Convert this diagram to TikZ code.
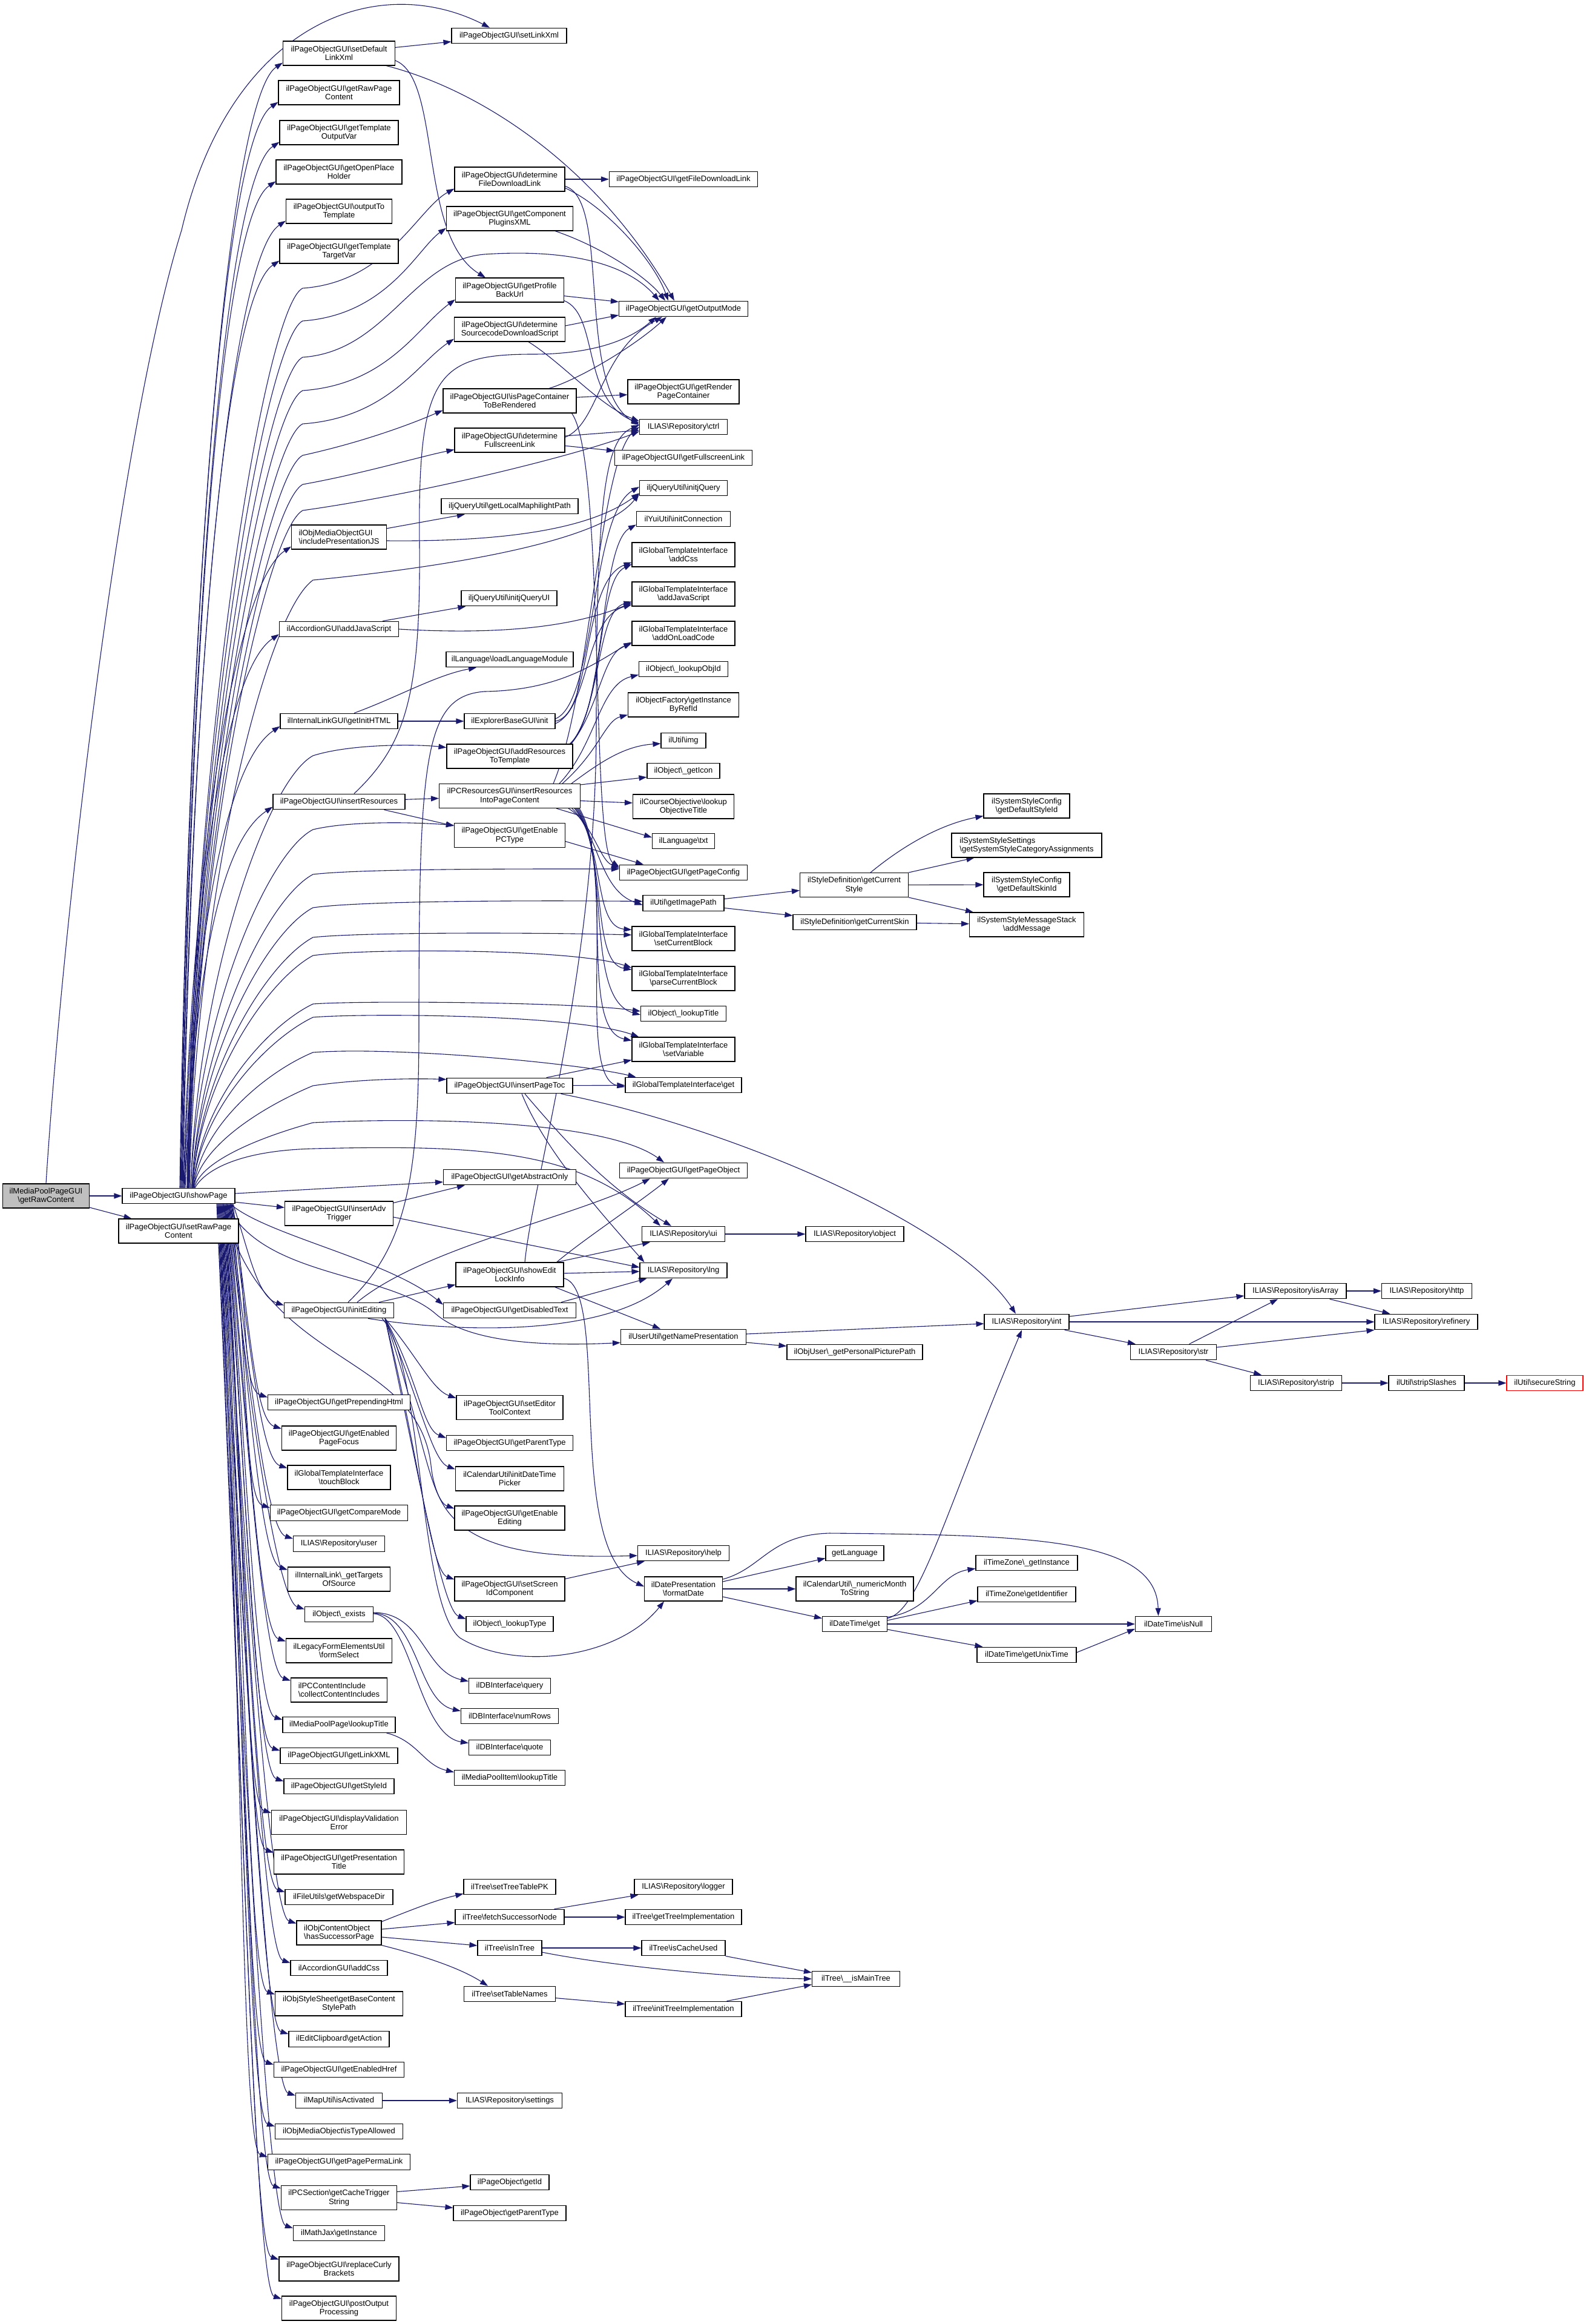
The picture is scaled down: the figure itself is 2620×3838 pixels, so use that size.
\documentclass[tikz,border=0pt]{standalone}
\usepackage{fontspec}
\setmainfont{Liberation Sans}
\usetikzlibrary{arrows.meta,backgrounds}
\definecolor{edgec}{HTML}{191970}
\definecolor{rootgray}{HTML}{BFBFBF}
\newcommand{\mybs}{\textbackslash}
\begin{document}
\begin{tikzpicture}[x=1pt,y=-1pt,
  font=\fontsize{13pt}{14.3pt}\selectfont,
  cgn/.style={draw=black,fill=white,line width=1.1pt,inner xsep=2pt,inner ysep=1pt,minimum height=25.7pt,align=center},
  cg2/.style={cgn,minimum height=40pt},
  cge/.style={draw=edgec,line width=1.1pt,-{Triangle[length=13pt,width=9pt]}}]
\useasboundingbox (0,0) rectangle (2620,3838);

% ---- column 1/2
\node[cg2,fill=rootgray,minimum width=143pt] (root) at (76,1975) {ilMediaPoolPageGUI\\\mybs getRawContent};
\node[cgn,minimum width=186pt] (sp) at (295,1975) {ilPageObjectGUI\mybs showPage};
\node[cg2,minimum width=198pt] (srpc) at (295,2033) {ilPageObjectGUI\mybs setRawPage\\Content};

% ---- column 3
\node[cg2,minimum width=185pt] (sdlx) at (560,88) {ilPageObjectGUI\mybs setDefault\\LinkXml};
\node[cg2,minimum width=200pt] (grpc) at (560,153) {ilPageObjectGUI\mybs getRawPage\\Content};
\node[cg2,minimum width=196pt] (gtov) at (560,219) {ilPageObjectGUI\mybs getTemplate\\OutputVar};
\node[cg2,minimum width=208pt] (goph) at (560,284) {ilPageObjectGUI\mybs getOpenPlace\\Holder};
\node[cg2,minimum width=175pt] (otot) at (560,349) {ilPageObjectGUI\mybs outputTo\\Template};
\node[cg2,minimum width=196pt] (gttv) at (560,415) {ilPageObjectGUI\mybs getTemplate\\TargetVar};
\node[cg2,minimum width=157pt,align=left] (ipjs) at (560,887) {ilObjMediaObjectGUI\\\mybs includePresentationJS};
\node[cgn,minimum width=197pt] (aajs) at (560,1039) {ilAccordionGUI\mybs addJavaScript};
\node[cgn,minimum width=194pt] (gih) at (560,1191) {ilInternalLinkGUI\mybs getInitHTML};
\node[cgn,minimum width=218pt] (ires) at (560,1324) {ilPageObjectGUI\mybs insertResources};
\node[cg2,minimum width=179pt] (iat) at (560,2004) {ilPageObjectGUI\mybs insertAdv\\Trigger};
\node[cgn,minimum width=181pt] (ied) at (560,2164) {ilPageObjectGUI\mybs initEditing};
\node[cgn,minimum width=235pt] (gph) at (560,2316) {ilPageObjectGUI\mybs getPrependingHtml};
\node[cg2,minimum width=189pt] (gepf) at (560,2375) {ilPageObjectGUI\mybs getEnabled\\PageFocus};
\node[cg2,minimum width=170pt] (tb) at (560,2440) {ilGlobalTemplateInterface\\\mybs touchBlock};
\node[cgn,minimum width=227pt] (gcm) at (560,2498.5) {ilPageObjectGUI\mybs getCompareMode};
\node[cgn,minimum width=151pt] (ruser) at (560,2549.5) {ILIAS\mybs Repository\mybs user};
\node[cg2,minimum width=169pt] (gtos) at (560,2608) {ilInternalLink\mybs\_getTargets\\OfSource};
\node[cgn,minimum width=113pt] (oex) at (560,2666) {ilObject\mybs\_exists};
\node[cg2,minimum width=175pt] (fsel) at (560,2726) {ilLegacyFormElementsUtil\\\mybs formSelect};
\node[cg2,minimum width=159pt,align=left] (cci) at (560,2791) {ilPCContentInclude\\\mybs collectContentIncludes};
\node[cgn,minimum width=186pt] (mplt) at (560,2848.5) {ilMediaPoolPage\mybs lookupTitle};
\node[cgn,minimum width=194pt] (glx) at (560,2899.5) {ilPageObjectGUI\mybs getLinkXML};
\node[cgn,minimum width=182pt] (gsid) at (560,2950) {ilPageObjectGUI\mybs getStyleId};
\node[cg2,minimum width=223pt] (dve) at (560,3009.5) {ilPageObjectGUI\mybs displayValidation\\Error};
\node[cg2,minimum width=215pt] (gpt) at (560,3075) {ilPageObjectGUI\mybs getPresentation\\Title};
\node[cgn,minimum width=178pt] (gwd) at (560,3133) {ilFileUtils\mybs getWebspaceDir};
\node[cg2,minimum width=140pt,align=left] (hsp) at (560,3192) {ilObjContentObject\\\mybs hasSuccessorPage};
\node[cgn,minimum width=160pt] (acss) at (560,3250) {ilAccordionGUI\mybs addCss};
\node[cg2,minimum width=211pt] (gbcs) at (560,3309) {ilObjStyleSheet\mybs getBaseContent\\StylePath};
\node[cgn,minimum width=166pt] (gact) at (560,3367.5) {ilEditClipboard\mybs getAction};
\node[cgn,minimum width=215pt] (geh) at (560,3418) {ilPageObjectGUI\mybs getEnabledHref};
\node[cgn,minimum width=143pt] (mia) at (560,3469) {ilMapUtil\mybs isActivated};
\node[cgn,minimum width=211pt] (ita) at (560,3520) {ilObjMediaObject\mybs isTypeAllowed};
\node[cgn,minimum width=235pt] (gppl) at (560,3570.5) {ilPageObjectGUI\mybs getPagePermaLink};
\node[cg2,minimum width=191pt] (gcts) at (560,3629.5) {ilPCSection\mybs getCacheTrigger\\String};
\node[cgn,minimum width=151pt] (mjgi) at (560,3688) {ilMathJax\mybs getInstance};
\node[cg2,minimum width=198pt] (rcb) at (560,3747) {ilPageObjectGUI\mybs replaceCurly\\Brackets};
\node[cg2,minimum width=189pt] (poop) at (560,3812) {ilPageObjectGUI\mybs postOutput\\Processing};

% ---- column 4
\node[cgn,minimum width=190pt] (slx) at (841,59) {ilPageObjectGUI\mybs setLinkXml};
\node[cg2,minimum width=182pt] (dfdl) at (842,296) {ilPageObjectGUI\mybs determine\\FileDownloadLink};
\node[cg2,minimum width=209pt] (gcpx) at (842,361) {ilPageObjectGUI\mybs getComponent\\PluginsXML};
\node[cg2,minimum width=179pt] (gpbu) at (842,479) {ilPageObjectGUI\mybs getProfile\\BackUrl};
\node[cg2,minimum width=183pt] (dsds) at (842,544) {ilPageObjectGUI\mybs determine\\SourcecodeDownloadScript};
\node[cg2,minimum width=220pt] (ipcr) at (842,662) {ilPageObjectGUI\mybs isPageContainer\\ToBeRendered};
\node[cg2,minimum width=182pt] (dfl) at (842,727) {ilPageObjectGUI\mybs determine\\FullscreenLink};
\node[cgn,minimum width=226pt] (glmp) at (842,836) {iljQueryUtil\mybs getLocalMaphilightPath};
\node[cgn,minimum width=158pt] (ijqui) at (841,988) {iljQueryUtil\mybs initjQueryUI};
\node[cgn,minimum width=210pt] (llm) at (842,1089) {ilLanguage\mybs loadLanguageModule};
\node[cgn,minimum width=150pt] (ebi) at (842,1191) {ilExplorerBaseGUI\mybs init};
\node[cg2,minimum width=208pt] (art) at (842,1249) {ilPageObjectGUI\mybs addResources\\ToTemplate};
\node[cg2,minimum width=233pt] (irpc) at (842,1314.5) {ilPCResourcesGUI\mybs insertResources\\IntoPageContent};
\node[cg2,minimum width=183pt] (gept) at (842,1379.5) {ilPageObjectGUI\mybs getEnable\\PCType};
\node[cgn,minimum width=208pt] (ipt) at (842,1793) {ilPageObjectGUI\mybs insertPageToc};
\node[cgn,minimum width=219pt] (gao) at (842,1944) {ilPageObjectGUI\mybs getAbstractOnly};
\node[cg2,minimum width=178pt] (seli) at (842,2105) {ilPageObjectGUI\mybs showEdit\\LockInfo};
\node[cgn,minimum width=219pt] (gdt) at (842,2164) {ilPageObjectGUI\mybs getDisabledText};
\node[cg2,minimum width=176pt] (setc) at (842,2324.5) {ilPageObjectGUI\mybs setEditor\\ToolContext};
\node[cgn,minimum width=209pt] (gpty) at (842,2383) {ilPageObjectGUI\mybs getParentType};
\node[cg2,minimum width=179pt] (idtp) at (842,2442) {ilCalendarUtil\mybs initDateTime\\Picker};
\node[cg2,minimum width=182pt] (gee) at (842,2507) {ilPageObjectGUI\mybs getEnable\\Editing};
\node[cg2,minimum width=182pt] (ssic) at (842,2624) {ilPageObjectGUI\mybs setScreen\\IdComponent};
\node[cgn,minimum width=144pt] (olt) at (842,2682) {ilObject\mybs\_lookupType};
\node[cgn,minimum width=135pt] (dbq) at (842,2784) {ilDBInterface\mybs query};
\node[cgn,minimum width=161pt] (dbn) at (842,2834) {ilDBInterface\mybs numRows};
\node[cgn,minimum width=135pt] (dbqu) at (842,2886) {ilDBInterface\mybs quote};
\node[cgn,minimum width=183pt] (mpilt) at (842,2936) {ilMediaPoolItem\mybs lookupTitle};
\node[cgn,minimum width=152pt] (tstp) at (842,3116) {ilTree\mybs setTreeTablePK};
\node[cgn,minimum width=180pt] (tfsn) at (842,3166) {ilTree\mybs fetchSuccessorNode};
\node[cgn,minimum width=106pt] (tiit) at (842,3217) {ilTree\mybs isInTree};
\node[cgn,minimum width=151pt] (tstn) at (842,3293) {ilTree\mybs setTableNames};
\node[cgn,minimum width=173pt] (rset) at (842,3469) {ILIAS\mybs Repository\mybs settings};
\node[cgn,minimum width=130pt] (pogi) at (842,3604) {ilPageObject\mybs getId};
\node[cgn,minimum width=186pt] (popt) at (842,3655) {ilPageObject\mybs getParentType};

% ---- column 5
\node[cgn,minimum width=245pt] (gfdl) at (1129,296) {ilPageObjectGUI\mybs getFileDownloadLink};
\node[cgn,minimum width=213pt] (gom) at (1129,510) {ilPageObjectGUI\mybs getOutputMode};
\node[cg2,minimum width=184pt] (grpco) at (1129,647) {ilPageObjectGUI\mybs getRender\\PageContainer};
\node[cgn,minimum width=145pt] (rctrl) at (1129,705) {ILIAS\mybs Repository\mybs ctrl};
\node[cgn,minimum width=227pt] (gfl) at (1129,756) {ilPageObjectGUI\mybs getFullscreenLink};
\node[cgn,minimum width=145pt] (ijq) at (1129,806) {iljQueryUtil\mybs initjQuery};
\node[cgn,minimum width=155pt] (yic) at (1129,857) {ilYuiUtil\mybs initConnection};
\node[cg2,minimum width=170pt] (gaddcss) at (1129,916) {ilGlobalTemplateInterface\\\mybs addCss};
\node[cg2,minimum width=170pt] (gajs) at (1129,981) {ilGlobalTemplateInterface\\\mybs addJavaScript};
\node[cg2,minimum width=170pt] (gaolc) at (1129,1046) {ilGlobalTemplateInterface\\\mybs addOnLoadCode};
\node[cgn,minimum width=147pt] (olo) at (1129,1105) {ilObject\mybs\_lookupObjId};
\node[cg2,minimum width=183pt] (ofgi) at (1129,1164) {ilObjectFactory\mybs getInstance\\ByRefId};
\node[cgn,minimum width=74pt] (uimg) at (1129,1223) {ilUtil\mybs img};
\node[cgn,minimum width=120pt] (ogi) at (1129,1273) {ilObject\mybs\_getIcon};
\node[cg2,minimum width=167pt] (colt) at (1129,1332) {ilCourseObjective\mybs lookup\\ObjectiveTitle};
\node[cgn,minimum width=103pt] (ltxt) at (1129,1389) {ilLanguage\mybs txt};
\node[cgn,minimum width=211pt] (gpc) at (1129,1441) {ilPageObjectGUI\mybs getPageConfig};
\node[cgn,minimum width=134pt] (ugip) at (1129,1491.5) {ilUtil\mybs getImagePath};
\node[cg2,minimum width=170pt] (gscb) at (1129,1550) {ilGlobalTemplateInterface\\\mybs setCurrentBlock};
\node[cg2,minimum width=170pt] (gpcb) at (1129,1616) {ilGlobalTemplateInterface\\\mybs parseCurrentBlock};
\node[cgn,minimum width=141pt] (oltt) at (1129,1674) {ilObject\mybs\_lookupTitle};
\node[cg2,minimum width=170pt] (gsv) at (1129,1733) {ilGlobalTemplateInterface\\\mybs setVariable};
\node[cgn,minimum width=192pt] (gget) at (1129,1792) {ilGlobalTemplateInterface\mybs get};
\node[cgn,minimum width=211pt] (gpo) at (1129,1933) {ilPageObjectGUI\mybs getPageObject};
\node[cgn,minimum width=137pt] (rui) at (1129,2038) {ILIAS\mybs Repository\mybs ui};
\node[cgn,minimum width=144pt] (rlng) at (1129,2098) {ILIAS\mybs Repository\mybs lng};
\node[cgn,minimum width=207pt] (ugnp) at (1129,2208) {ilUserUtil\mybs getNamePresentation};
\node[cgn,minimum width=151pt] (rhelp) at (1129,2565) {ILIAS\mybs Repository\mybs help};
\node[cg2,minimum width=129pt] (dpfd) at (1129,2624) {ilDatePresentation\\\mybs formatDate};
\node[cgn,minimum width=162pt] (rlog) at (1129,3116) {ILIAS\mybs Repository\mybs logger};
\node[cgn,minimum width=192pt] (tgti) at (1129,3166) {ilTree\mybs getTreeImplementation};
\node[cgn,minimum width=138pt] (tict) at (1129,3217) {ilTree\mybs isCacheUsed};
\node[cgn,minimum width=192pt] (titi) at (1129,3318) {ilTree\mybs initTreeImplementation};

% ---- column 6
\node[cg2,minimum width=179pt] (sdcs) at (1411,1461.5) {ilStyleDefinition\mybs getCurrent\\Style};
\node[cgn,minimum width=204pt] (sdck) at (1412,1523) {ilStyleDefinition\mybs getCurrentSkin};
\node[cgn,minimum width=162pt] (robj) at (1412,2038) {ILIAS\mybs Repository\mybs object};
\node[cgn,minimum width=224pt] (oupp) at (1412,2233) {ilObjUser\mybs\_getPersonalPicturePath};
\node[cgn,minimum width=96pt] (glang) at (1412,2565) {getLanguage};
\node[cg2,minimum width=194pt] (cunm) at (1412,2624) {ilCalendarUtil\mybs\_numericMonth\\ToString};
\node[cgn,minimum width=107pt] (dtg) at (1412,2682) {ilDateTime\mybs get};
\node[cgn,minimum width=145pt] (timt) at (1414,3268) {ilTree\mybs\_\_isMainTree};

% ---- column 7
\node[cg2,minimum width=142pt] (sscdsi) at (1696,1331) {ilSystemStyleConfig\\\mybs getDefaultStyleId};
\node[cg2,minimum width=248pt,align=left] (sssc) at (1696,1396) {ilSystemStyleSettings\\\mybs getSystemStyleCategoryAssignments};
\node[cg2,minimum width=142pt] (sscdsk) at (1696,1461) {ilSystemStyleConfig\\\mybs getDefaultSkinId};
\node[cg2,minimum width=189pt] (ssms) at (1696,1527) {ilSystemStyleMessageStack\\\mybs addMessage};
\node[cgn,minimum width=140pt] (rint) at (1696,2183) {ILIAS\mybs Repository\mybs int};
\node[cgn,minimum width=168pt] (tzgi) at (1696,2581) {ilTimeZone\mybs\_getInstance};
\node[cgn,minimum width=162pt] (tzid) at (1696,2633) {ilTimeZone\mybs getIdentifier};
\node[cgn,minimum width=164pt] (dtut) at (1696,2733) {ilDateTime\mybs getUnixTime};

% ---- columns 8-11
\node[cgn,minimum width=142pt] (rstr) at (1938.5,2233) {ILIAS\mybs Repository\mybs str};
\node[cgn,minimum width=126pt] (dtin) at (1938.5,2682) {ilDateTime\mybs isNull};
\node[cgn,minimum width=168pt] (risa) at (2140,2132) {ILIAS\mybs Repository\mybs isArray};
\node[cgn,minimum width=151pt] (rstrip) at (2141,2284) {ILIAS\mybs Repository\mybs strip};
\node[cgn,minimum width=149pt] (rhttp) at (2357,2132) {ILIAS\mybs Repository\mybs http};
\node[cgn,minimum width=170pt] (rref) at (2356,2183) {ILIAS\mybs Repository\mybs refinery};
\node[cgn,minimum width=125pt] (usts) at (2356.5,2284) {ilUtil\mybs stripSlashes};
\node[cgn,draw=red,minimum width=126pt] (usec) at (2552,2284) {ilUtil\mybs secureString};

\begin{scope}[on background layer]
\fill[white] (0,0) rectangle (2620,3838);

% root
\draw[cge] (root) -- (sp);
\draw[cge] (root) -- (srpc);
\draw[cge] (root.north) .. controls (105,1500) and (200,700) .. (300,380) .. controls (380,40) and (620,-50) .. ([xshift=-32pt]slx.north);

% showPage up fan (column 3)
\draw[cge] ([xshift=2pt]sp.north) .. controls (312,942) and (378,163) .. ([yshift=5pt]sdlx.south west);
\draw[cge] ([xshift=3pt]sp.north) .. controls (313,978) and (370,228) .. ([yshift=5pt]grpc.south west);
\draw[cge] ([xshift=4pt]sp.north) .. controls (314,1014) and (372,294) .. ([yshift=5pt]gtov.south west);
\draw[cge] ([xshift=5pt]sp.north) .. controls (315,1050) and (366,359) .. ([yshift=5pt]goph.south west);
\draw[cge] ([xshift=6pt]sp.north) .. controls (316,1086) and (382,425) .. ([yshift=5pt]otot.south west);
\draw[cge] ([xshift=7pt]sp.north) .. controls (317,1122) and (372,490) .. ([yshift=5pt]gttv.south west);
\draw[cge] ([xshift=8pt]sp.north) .. controls (318,1382) and (392,962) .. ([yshift=5pt]ipjs.south west);
\draw[cge] ([xshift=9pt]sp.north) .. controls (319,1462) and (372,1107) .. ([yshift=5pt]aajs.south west);
\draw[cge] ([xshift=10pt]sp.north) .. controls (320,1545) and (373,1259) .. ([yshift=5pt]gih.south west);
\draw[cge] ([xshift=11pt]sp.north) .. controls (321,1618) and (361,1392) .. ([yshift=5pt]ires.south west);

% showPage long up edges (bundle, then to the right)
\draw[cge] ([xshift=14pt]sp.north) .. controls (320,1218) and (438,505) .. (500,476) .. controls (640,466) and (690,345) .. ([yshift=5pt]dfdl.south west);
\draw[cge] ([xshift=14pt]sp.north) .. controls (320,1246) and (438,560) .. (500,530) .. controls (640,520) and (690,410) .. ([yshift=5pt]gcpx.south west);
\draw[cge] ([xshift=15pt]sp.north) .. controls (321,1276) and (438,620) .. (500,590) .. controls (640,580) and (680,430) .. (800,420) .. controls (950,410) and (1040,440) .. ([xshift=-40pt]gom.north);
\draw[cge] ([xshift=15pt]sp.north) .. controls (321,1303) and (438,675) .. (500,645) .. controls (640,635) and (690,540) .. ([yshift=5pt]gpbu.south west);
\draw[cge] ([xshift=16pt]sp.north) .. controls (322,1331) and (438,730) .. (500,700) .. controls (640,690) and (690,600) .. ([yshift=5pt]dsds.south west);
\draw[cge] ([xshift=16pt]sp.north) .. controls (322,1360) and (438,785) .. (500,752) .. controls (600,730) and (680,700) .. ([yshift=5pt]ipcr.south west);
\draw[cge] ([xshift=17pt]sp.north) .. controls (323,1385) and (438,835) .. (500,800) .. controls (600,782) and (690,755) .. ([yshift=5pt]dfl.south west);
\draw[cge] ([xshift=17pt]sp.north) .. controls (323,1406) and (438,878) .. (500,843) .. controls (700,815) and (960,750) .. ([yshift=6pt]rctrl.south west);
\draw[cge] ([xshift=18pt]sp.north) .. controls (324,1476) and (438,1015) .. (517,958) .. controls (700,940) and (990,900) .. ([yshift=4pt]ijq.south west);
\draw[cge] ([xshift=20pt]sp.north) .. controls (326,1620) and (440,1290) .. (517,1248) .. controls (580,1228) and (690,1229) .. ([yshift=-6pt]art.north west);
\draw[cge] ([xshift=20pt]sp.north) .. controls (326,1680) and (440,1410) .. (517,1370) .. controls (580,1355) and (690,1358) .. ([yshift=-4pt]gept.north west);
\draw[cge] ([xshift=22pt]sp.north) .. controls (328,1720) and (440,1485) .. (517,1444) .. controls (600,1434) and (900,1435) .. ([yshift=6pt]gpc.west);
\draw[cge] ([xshift=22pt]sp.north) .. controls (328,1745) and (440,1540) .. (517,1499) .. controls (600,1487) and (900,1487) .. ([yshift=3pt]ugip.west);
\draw[cge] ([xshift=23pt]sp.north) .. controls (329,1770) and (440,1590) .. (517,1548) .. controls (600,1539) and (900,1540) .. ([yshift=6pt]gscb.west);
\draw[cge] ([xshift=23pt]sp.north) .. controls (329,1785) and (440,1620) .. (517,1578) .. controls (600,1566) and (950,1566) .. ([yshift=-3pt]gpcb.north west);
\draw[cge] ([xshift=24pt]sp.north) .. controls (330,1820) and (440,1695) .. (517,1658) .. controls (600,1652) and (950,1655) .. ([yshift=4pt]oltt.west);
\draw[cge] ([xshift=24pt]sp.north) .. controls (330,1835) and (440,1717) .. (517,1680) .. controls (600,1673) and (950,1675) .. ([xshift=12pt]gsv.north west);
\draw[cge] ([xshift=25pt]sp.north) .. controls (331,1860) and (440,1770) .. (517,1738) .. controls (650,1728) and (950,1755) .. ([xshift=18pt]gget.north west);
\draw[cge] ([xshift=25pt]sp.north) .. controls (331,1890) and (440,1825) .. (517,1793) .. controls (600,1781) and (690,1781) .. ([yshift=-3pt]ipt.north west);
\draw[cge] ([xshift=26pt]sp.north) .. controls (332,1915) and (440,1875) .. (517,1854) .. controls (700,1845) and (1000,1850) .. ([xshift=-32pt]gpo.north);
\draw[cge] ([xshift=27pt]sp.north) .. controls (340,1930) and (400,1900) .. (517,1897) .. controls (800,1890) and (960,1900) .. ([xshift=-38pt]rui.north);

% showPage right / down
\draw[cge] (sp) -- (iat);
\draw[cge] ([yshift=4pt]sp.east) -- ([yshift=-8pt]gao.west);
\draw[cge] ([xshift=-8pt]sp.south east) .. controls (440,2040) and (640,2080) .. ([yshift=-4pt]gdt.north west);
\draw[cge] ([xshift=-14pt]sp.south east) .. controls (430,2110) and (640,2100) .. (720,2170) .. controls (760,2205) and (850,2226) .. ([yshift=4pt]ugnp.south west);
\draw[cge] ([xshift=-20pt]sp.south east) .. controls (430,2260) and (690,2230) .. (712,2420) .. controls (725,2550) and (850,2575) .. ([yshift=-4pt]rhelp.west);

% showPage down fan (column 3)
\draw[cge] ([xshift=90pt]sp.south) .. controls (412,2070) and (425,2141) .. ([yshift=-5pt]ied.north west);
\draw[cge] ([xshift=89pt]sp.south) .. controls (412,2146) and (398,2293) .. ([yshift=-5pt]gph.north west);
\draw[cge] ([xshift=88pt]sp.south) .. controls (412,2172) and (420,2345) .. ([yshift=-5pt]gepf.north west);
\draw[cge] ([xshift=87pt]sp.south) .. controls (411,2204) and (430,2410) .. ([yshift=-5pt]tb.north west);
\draw[cge] ([xshift=86pt]sp.south) .. controls (411,2237) and (402,2476) .. ([yshift=-5pt]gcm.north west);
\draw[cge] ([xshift=85pt]sp.south) .. controls (410,2262) and (440,2527) .. ([yshift=-5pt]ruser.north west);
\draw[cge] ([xshift=84pt]sp.south) .. controls (410,2288) and (431,2578) .. ([yshift=-5pt]gtos.north west);
\draw[cge] ([xshift=83pt]sp.south) .. controls (409,2320) and (459,2643) .. ([yshift=-5pt]oex.north west);
\draw[cge] ([xshift=82pt]sp.south) .. controls (409,2347) and (428,2696) .. ([yshift=-5pt]fsel.north west);
\draw[cge] ([xshift=81pt]sp.south) .. controls (408,2380) and (436,2761) .. ([yshift=-5pt]cci.north west);
\draw[cge] ([xshift=80pt]sp.south) .. controls (408,2412) and (422,2826) .. ([yshift=-5pt]mplt.north west);
\draw[cge] ([xshift=79pt]sp.south) .. controls (407,2437) and (418,2877) .. ([yshift=-5pt]glx.north west);
\draw[cge] ([xshift=78pt]sp.south) .. controls (407,2462) and (424,2927) .. ([yshift=-5pt]gsid.north west);
\draw[cge] ([xshift=77pt]sp.south) .. controls (406,2489) and (404,2980) .. ([yshift=-5pt]dve.north west);
\draw[cge] ([xshift=76pt]sp.south) .. controls (406,2521) and (408,3045) .. ([yshift=-5pt]gpt.north west);
\draw[cge] ([xshift=75pt]sp.south) .. controls (405,2554) and (426,3110) .. ([yshift=-5pt]gwd.north west);
\draw[cge] ([xshift=74pt]sp.south) .. controls (405,2580) and (445,3162) .. ([yshift=-5pt]hsp.north west);
\draw[cge] ([xshift=73pt]sp.south) .. controls (404,2612) and (435,3227) .. ([yshift=-5pt]acss.north west);
\draw[cge] ([xshift=72pt]sp.south) .. controls (404,2638) and (410,3279) .. ([yshift=-5pt]gbcs.north west);
\draw[cge] ([xshift=71pt]sp.south) .. controls (403,2671) and (432,3345) .. ([yshift=-5pt]gact.north west);
\draw[cge] ([xshift=70pt]sp.south) .. controls (403,2696) and (408,3395) .. ([yshift=-5pt]geh.north west);
\draw[cge] ([xshift=69pt]sp.south) .. controls (402,2722) and (444,3446) .. ([yshift=-5pt]mia.north west);
\draw[cge] ([xshift=68pt]sp.south) .. controls (402,2747) and (410,3497) .. ([yshift=-5pt]ita.north west);
\draw[cge] ([xshift=67pt]sp.south) .. controls (401,2773) and (398,3548) .. ([yshift=-5pt]gppl.north west);
\draw[cge] ([xshift=66pt]sp.south) .. controls (401,2799) and (420,3600) .. ([yshift=-5pt]gcts.north west);
\draw[cge] ([xshift=65pt]sp.south) .. controls (400,2832) and (440,3665) .. ([yshift=-5pt]mjgi.north west);
\draw[cge] ([xshift=64pt]sp.south) .. controls (400,2857) and (416,3717) .. ([yshift=-5pt]rcb.north west);
\draw[cge] ([xshift=63pt]sp.south) .. controls (399,2890) and (421,3782) .. ([yshift=-5pt]poop.north west);

% column 3 outgoing
\draw[cge] (sdlx) -- (slx);
\draw[cge] ([xshift=-15pt]sdlx.south east) .. controls (800,150) and (990,280) .. ([xshift=-15pt]gom.north);
\draw[cge] ([yshift=-12pt]sdlx.east) .. controls (730,130) and (690,390) .. ([xshift=-40pt]gpbu.north);
\draw[cge] (ipjs) -- (glmp);
\draw[cge] ([yshift=-6pt]ipjs.east) .. controls (850,895) and (980,870) .. ([yshift=5pt]ijq.south west);
\draw[cge] ([xshift=-27pt]aajs.north east) -- ([xshift=8pt]ijqui.south west);
\draw[cge] (aajs.east) .. controls (850,1050) and (960,1030) .. ([yshift=6pt]gajs.south west);
\draw[cge] ([xshift=25pt]gih.north) .. controls (660,1150) and (720,1115) .. ([xshift=-55pt]llm.south);
\draw[cge] (gih) -- (ebi);
\draw[cge] (ires) -- (irpc);
\draw[cge] ([xshift=-35pt]ires.south east) -- ([yshift=-5pt]gept.north west);
\draw[cge] ([xshift=25pt]ires.north) .. controls (670,1230) and (695,1150) .. (693,900) .. controls (690,620) and (720,585) .. (880,585) .. controls (960,585) and (1030,570) .. ([xshift=-45pt]gom.south);
\draw[cge] ([yshift=-3pt]iat.north east) -- ([xshift=36pt]gao.south west);
\draw[cge] ([yshift=-6pt]iat.east) -- ([yshift=5pt]rlng.west);

% initEditing
\draw[cge] ([xshift=-25pt]ied.north east) -- ([yshift=4pt]seli.south west);
\draw[cge] ([xshift=30pt]ied.north) .. controls (700,2060) and (950,2010) .. ([xshift=-55pt]gpo.south);
\draw[cge] ([xshift=15pt]ied.north) .. controls (670,2060) and (692,1950) .. (692,1700) .. controls (692,1250) and (700,1150) .. (800,1142) .. controls (930,1140) and (990,1090) .. ([yshift=6pt]gaolc.south west);
\draw[cge] ([xshift=48pt]ied.south) .. controls (750,2200) and (1000,2210) .. ([xshift=-18pt]rlng.south);
\draw[cge] ([xshift=-15pt]ied.south east) .. controls (690,2241) and (714,2295) .. ([yshift=-5pt]setc.north west);
\draw[cge] ([xshift=-15pt]ied.south east) .. controls (690,2274) and (698,2360) .. ([yshift=-5pt]gpty.north west);
\draw[cge] ([xshift=-15pt]ied.south east) .. controls (690,2300) and (713,2412) .. ([yshift=-5pt]idtp.north west);
\draw[cge] ([xshift=-15pt]ied.south east) .. controls (690,2332) and (711,2477) .. ([yshift=-5pt]gee.north west);
\draw[cge] ([xshift=-15pt]ied.south east) .. controls (690,2391) and (711,2594) .. ([yshift=-5pt]ssic.north west);
\draw[cge] ([xshift=-15pt]ied.south east) .. controls (690,2423) and (730,2659) .. ([yshift=-5pt]olt.north west);
\draw[cge] ([xshift=-20pt]ied.south east) .. controls (700,2250) and (690,2650) .. (760,2705) .. controls (850,2760) and (1020,2740) .. ([xshift=-32pt]dpfd.south);

% showEditLockInfo & co
\draw[cge] (seli) -- (rlng);
\draw[cge] ([xshift=-12pt]seli.north east) -- ([xshift=14pt]rui.south west);
\draw[cge] ([xshift=-12pt]seli.north east) .. controls (960,2050) and (1050,1990) .. ([xshift=-24pt]gpo.south);
\draw[cge] ([xshift=-15pt]seli.south east) -- ([xshift=-38pt]ugnp.north);
\draw[cge] ([yshift=-6pt]seli.east) .. controls (1010,2130) and (930,2560) .. ([yshift=4pt]dpfd.west);
\draw[cge] ([xshift=25pt]seli.north) .. controls (880,1950) and (985,1600) .. (985,1200) .. controls (985,820) and (1000,725) .. ([yshift=3pt]rctrl.west);
\draw[cge] ([xshift=-25pt]gdt.north east) -- ([xshift=12pt]rlng.south west);
\draw[cge] ([yshift=-4pt]ssic.north east) -- ([xshift=12pt]rhelp.south west);

% insertPageToc
\draw[cge] ([xshift=-44pt]ipt.north east) -- ([yshift=3pt]gsv.south west);
\draw[cge] (ipt) -- (gget);
\draw[cge] ([xshift=-20pt]ipt.south east) .. controls (1200,1860) and (1580,2020) .. ([xshift=-18pt]rint.north);
\draw[cge] ([xshift=25pt]ipt.south) .. controls (930,1880) and (1000,1960) .. ([xshift=-20pt]rui.north);
\draw[cge] ([xshift=20pt]ipt.south) .. controls (900,1900) and (990,2000) .. ([xshift=8pt]rlng.north west);

% _exists, lookupTitle, hasSuccessorPage
\draw[cge] ([yshift=3pt]oex.east) .. controls (700,2664) and (700,2760) .. ([yshift=-6pt]dbq.north west);
\draw[cge] ([yshift=2pt]oex.east) .. controls (690,2666) and (690,2810) .. ([yshift=-5pt]dbn.north west);
\draw[cge] ([yshift=1pt]oex.east) .. controls (680,2668) and (690,2865) .. ([yshift=-6pt]dbqu.north west);
\draw[cge] ([xshift=-15pt]mplt.south east) .. controls (690,2875) and (700,2915) .. ([yshift=-4pt]mpilt.north west);
\draw[cge] ([yshift=-2pt]hsp.north east) .. controls (690,3150) and (720,3138) .. ([yshift=2pt]tstp.south west);
\draw[cge] ([yshift=6pt]hsp.east) -- ([yshift=-9pt]tfsn.west);
\draw[cge] ([yshift=-7pt]hsp.east) -- ([yshift=4pt]tiit.west);
\draw[cge] (hsp.south east) .. controls (700,3230) and (760,3250) .. ([xshift=-36pt]tstn.north);
\draw[cge] ([xshift=-17pt]tfsn.north east) -- ([xshift=7pt]rlog.south west);
\draw[cge] (tfsn) -- (tgti);
\draw[cge] (tiit) -- (tict);
\draw[cge] ([yshift=-7pt]tiit.east) .. controls (1000,3245) and (1200,3266) .. (timt.west);
\draw[cge] (tict.south east) -- ([yshift=-3pt]timt.north west);
\draw[cge] (tstn) -- (titi);
\draw[cge] ([xshift=-25pt]titi.north east) -- ([yshift=4pt]timt.south west);
\draw[cge] (mia) -- (rset);
\draw[cge] ([yshift=10pt]gcts.east) -- ([yshift=-6pt]pogi.west);
\draw[cge] ([yshift=-8pt]gcts.east) -- ([yshift=9pt]popt.west);

% column 4 -> column 5 (upper part)
\draw[cge] (dfdl) -- (gfdl);
\draw[cge] ([yshift=6pt]dfdl.south east) .. controls (1000,340) and (1080,430) .. ([xshift=-25pt]gom.north);
\draw[cge] ([yshift=9pt]dfdl.south east) .. controls (1010,330) and (950,640) .. ([yshift=3pt]rctrl.west);
\draw[cge] ([xshift=-30pt]gcpx.south east) .. controls (1000,410) and (1070,460) .. ([xshift=-30pt]gom.north);
\draw[cge] (gpbu) -- (gom);
\draw[cge] ([yshift=3pt]gpbu.south east) .. controls (990,520) and (960,660) .. ([yshift=6pt]rctrl.west);
\draw[cge] ([yshift=6pt]dsds.east) -- ([yshift=3pt]gom.south west);
\draw[cge] ([xshift=31pt]dsds.south) .. controls (930,600) and (990,670) .. ([yshift=-4pt]rctrl.north west);
\draw[cge] (ipcr) -- (grpco);
\draw[cge] ([xshift=65pt]ipcr.north) .. controls (960,625) and (1050,570) .. ([xshift=-28pt]gom.south);
\draw[cge] ([xshift=-8pt]ipcr.south east) .. controls (1000,760) and (975,1400) .. ([yshift=-4pt]gpc.north west);
\draw[cge] ([yshift=5pt]dfl.east) .. controls (990,700) and (990,580) .. ([xshift=-35pt]gom.south);
\draw[cge] (dfl) -- (rctrl);
\draw[cge] (dfl) -- (gfl);

% explorer init, addResourcesToTemplate
\draw[cge] ([yshift=-4pt]ebi.east) .. controls (975,1170) and (965,1020) .. ([yshift=3pt]gajs.south west);
\draw[cge] (ebi.east) .. controls (980,1180) and (960,960) .. ([yshift=8pt]gaddcss.south west);
\draw[cge] ([yshift=4pt]ebi.east) .. controls (985,1160) and (975,850) .. ([yshift=2pt]ijq.west);
\draw[cge] ([xshift=-5pt]art.north east) .. controls (1000,1180) and (990,900) .. ([yshift=4pt]yic.south west);
\draw[cge] ([xshift=-5pt]art.north east) .. controls (1000,1170) and (985,960) .. ([yshift=5pt]gaddcss.south west);
\draw[cge] ([xshift=-3pt]art.north east) .. controls (995,1160) and (985,1010) .. ([yshift=8pt]gajs.south west);
\draw[cge] ([xshift=-3pt]art.north east) .. controls (990,1170) and (995,1080) .. ([yshift=4pt]gaolc.south west);

% insertResourcesIntoPageContent
\draw[cge] ([xshift=-35pt]irpc.north east) .. controls (985,1230) and (990,1130) .. ([yshift=4pt]olo.south west);
\draw[cge] ([xshift=-30pt]irpc.north east) .. controls (990,1240) and (1000,1190) .. ([yshift=4pt]ofgi.south west);
\draw[cge] ([xshift=-15pt]irpc.north east) .. controls (990,1260) and (1030,1232) .. ([yshift=-5pt]uimg.west);
\draw[cge] ([yshift=-2pt]irpc.north east) -- ([yshift=3pt]ogi.south west);
\draw[cge] ([yshift=-8pt]irpc.east) -- ([yshift=6pt]colt.west);
\draw[cge] ([xshift=-40pt]irpc.south east) -- ([yshift=6pt]ltxt.west);
\draw[cge] ([xshift=-20pt]irpc.south east) .. controls (980,1360) and (990,1420) .. ([yshift=-6pt]gpc.north west);
\draw[cge] ([xshift=-14pt]irpc.south east) .. controls (990,1380) and (990,1470) .. ([yshift=-3pt]ugip.west);
\draw[cge] ([xshift=-10pt]irpc.south east) .. controls (1000,1400) and (980,1530) .. ([yshift=-6pt]gscb.north west);
\draw[cge] ([xshift=-8pt]irpc.south east) .. controls (1005,1410) and (975,1590) .. ([yshift=-6pt]gpcb.north west);
\draw[cge] ([xshift=-6pt]irpc.south east) .. controls (1010,1420) and (965,1650) .. ([yshift=-2pt]oltt.west);
\draw[cge] ([xshift=-4pt]irpc.south east) .. controls (1015,1430) and (955,1700) .. ([yshift=-6pt]gsv.north west);
\draw[cge] ([xshift=-2pt]irpc.south east) .. controls (1020,1440) and (950,1780) .. ([yshift=-3pt]gget.west);
\draw[cge] ([xshift=-45pt]irpc.north east) .. controls (975,1150) and (990,760) .. (rctrl.west);
\draw[cge] ([yshift=-10pt]gept.east) -- ([xshift=40pt]gpc.north west);

% style definition
\draw[cge] ([yshift=7pt]ugip.east) -- ([yshift=-9pt]sdcs.west);
\draw[cge] ([yshift=-8pt]ugip.east) -- ([yshift=11pt]sdck.west);
\draw[cge] ([xshift=27pt]sdcs.north) .. controls (1500,1390) and (1560,1360) .. ([yshift=4pt]sscdsi.south west);
\draw[cge] (sdcs.north east) -- ([xshift=38pt]sssc.south west);
\draw[cge] (sdcs) -- (sscdsk);
\draw[cge] (sdcs.south east) -- ([xshift=7pt]ssms.north west);
\draw[cge] (sdck) -- (ssms);

% repository / user / dates
\draw[cge] (rui) -- (robj);
\draw[cge] ([yshift=5pt]ugnp.east) -- ([yshift=-3pt]rint.west);
\draw[cge] ([yshift=-9pt]ugnp.east) -- ([yshift=10pt]oupp.west);
\draw[cge] ([yshift=12pt]dpfd.east) -- ([yshift=5pt]glang.south west);
\draw[cge] (dpfd) -- (cunm);
\draw[cge] ([yshift=-13pt]dpfd.east) -- ([yshift=-4pt]dtg.north west);
\draw[cge] ([yshift=16pt]dpfd.east) .. controls (1260,2590) and (1270,2535) .. (1370,2532) .. controls (1700,2535) and (1910,2540) .. ([xshift=-25pt]dtin.north);
\draw[cge] ([yshift=-4pt]dtg.north east) .. controls (1520,2660) and (1560,2500) .. ([xshift=-8pt]rint.south);
\draw[cge] ([yshift=-2pt]dtg.north east) .. controls (1540,2660) and (1550,2600) .. ([yshift=4pt]tzgi.south west);
\draw[cge] ([yshift=6pt]dtg.east) -- ([yshift=3pt]tzid.south west);
\draw[cge] (dtg) -- (dtin);
\draw[cge] ([yshift=-9pt]dtg.east) -- ([xshift=10pt]dtut.north west);
\draw[cge] ([yshift=4pt]dtut.east) -- ([yshift=-8pt]dtin.west);
\draw[cge] ([yshift=9pt]rint.east) -- ([yshift=-8pt]risa.west);
\draw[cge] (rint) -- (rref);
\draw[cge] ([xshift=-8pt]rint.south east) -- ([xshift=9pt]rstr.north west);
\draw[cge] ([xshift=26pt]rstr.north) -- ([xshift=-29pt]risa.south);
\draw[cge] ([yshift=8pt]rstr.east) -- (rref.south west);
\draw[cge] ([xshift=-18pt]rstr.south east) -- ([xshift=19pt]rstrip.north west);
\draw[cge] (risa) -- (rhttp);
\draw[cge] ([xshift=-28pt]risa.south east) -- ([xshift=26pt]rref.north west);
\draw[cge] (rstrip) -- (usts);
\draw[cge] (usts) -- (usec);
\end{scope}
\end{tikzpicture}
\end{document}
